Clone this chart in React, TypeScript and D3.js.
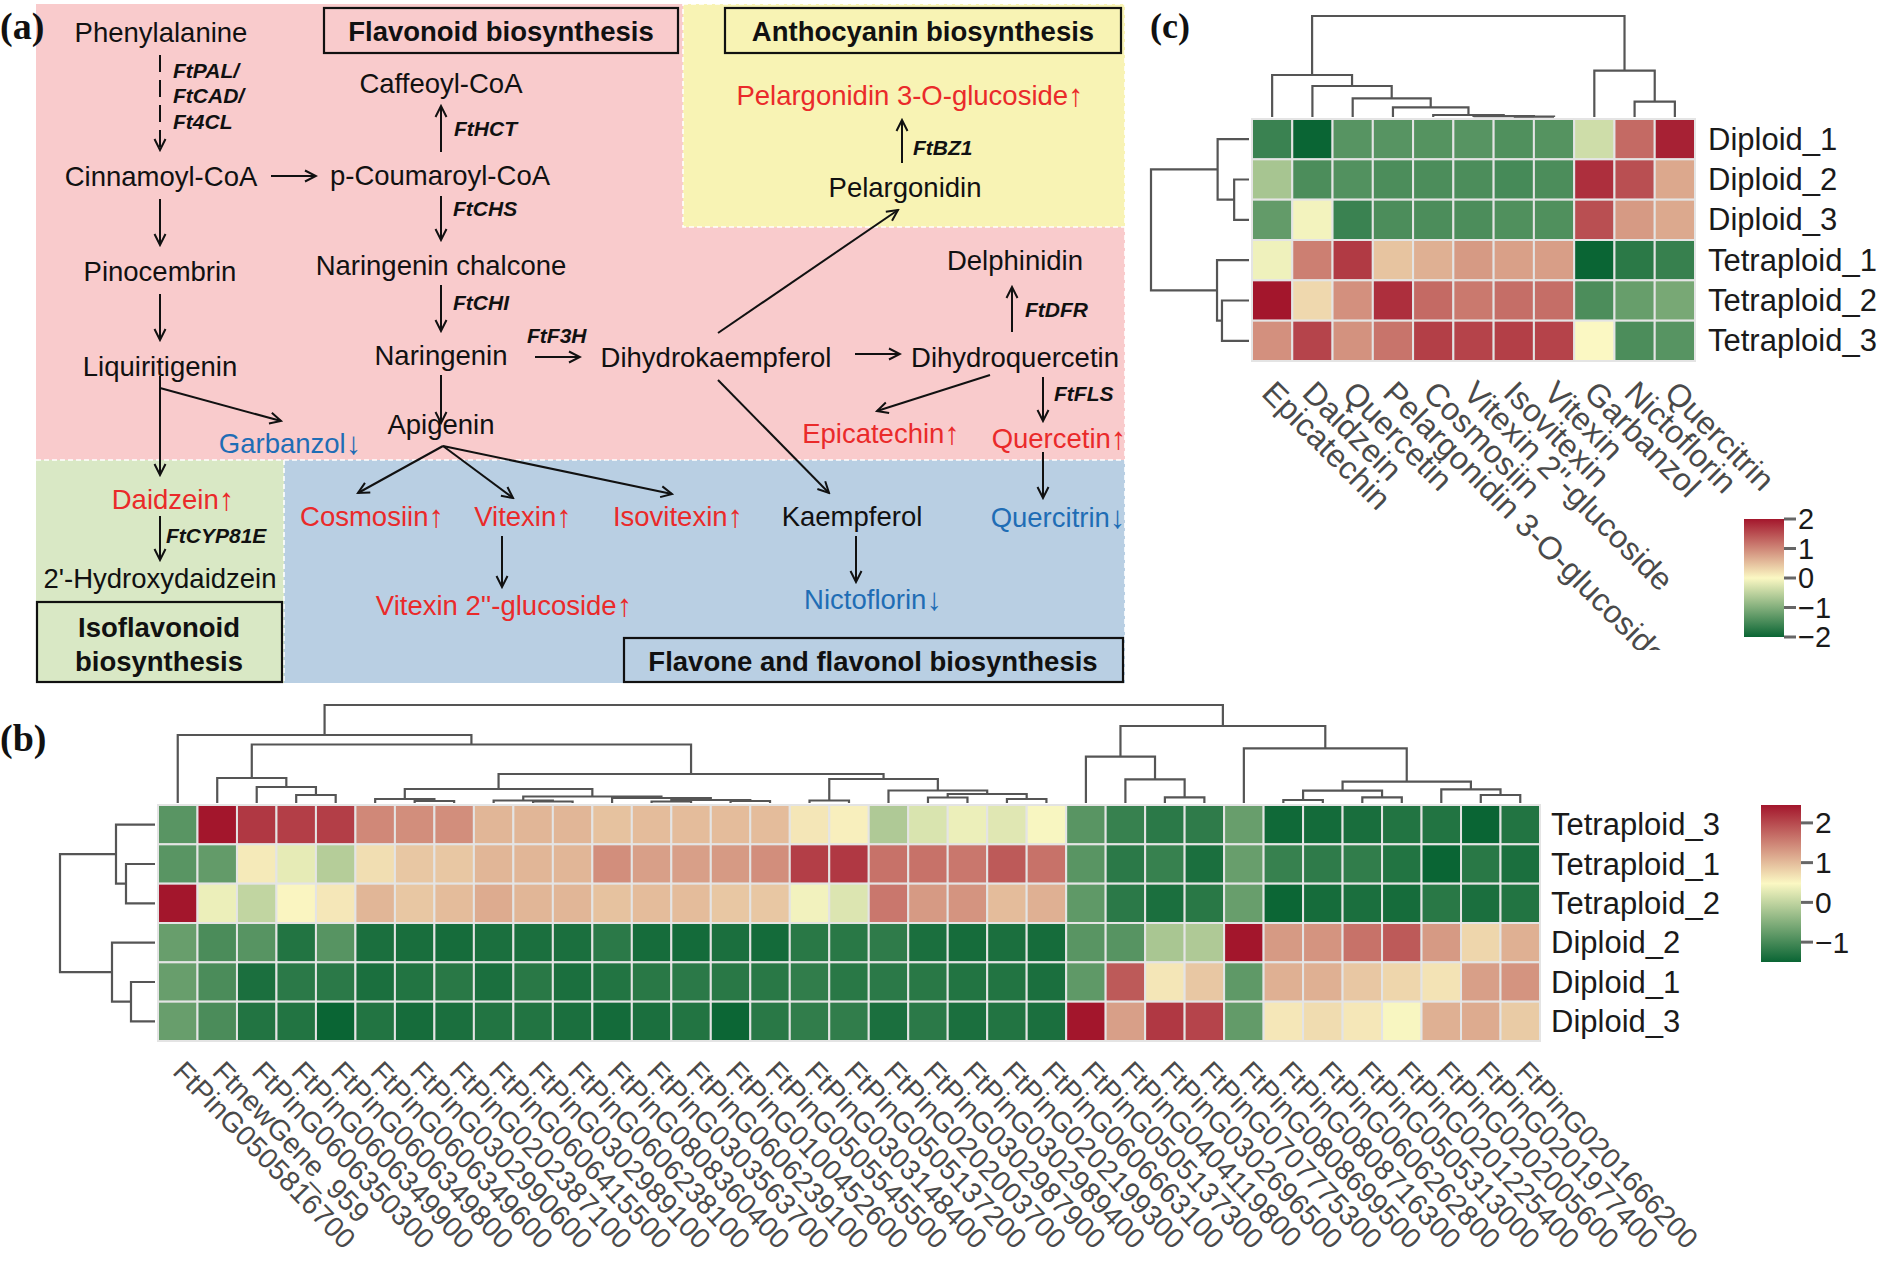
import * as d3 from 'd3';

// ---------- panel (b): gene expression heatmap ----------
const GENES = [
  'FtPinG0505816700', 'FtnewGene_959', 'FtPinG0606350300', 'FtPinG0606349900', 'FtPinG0606349800',
  'FtPinG0606349600', 'FtPinG0302990600', 'FtPinG0202387100', 'FtPinG0606415500', 'FtPinG0302989100',
  'FtPinG0606238100', 'FtPinG0808360400', 'FtPinG0303563700', 'FtPinG0606239100', 'FtPinG0100452600',
  'FtPinG0505545500', 'FtPinG0303148400', 'FtPinG0505137200', 'FtPinG0202003700', 'FtPinG0302987900',
  'FtPinG0302989400', 'FtPinG0202199300', 'FtPinG0606663100', 'FtPinG0505137300', 'FtPinG0404119800',
  'FtPinG0302696500', 'FtPinG0707775300', 'FtPinG0808699500', 'FtPinG0808716300', 'FtPinG0606262800',
  'FtPinG0505313000', 'FtPinG0201225400', 'FtPinG0202005600', 'FtPinG0201977400', 'FtPinG0201666200',
];
const B_ROWS = ['Tetraploid_3', 'Tetraploid_1', 'Tetraploid_2', 'Diploid_2', 'Diploid_1', 'Diploid_3'];
const B_VALUES = [
  [-0.85, 2.45, 2.15, 2.1, 2.1, 1.45, 1.4, 1.4, 1.05, 1.05, 1.05, 0.95, 1.0, 1.0, 1.0, 1.0, 0.63, 0.55, -0.15, 0.2, 0.35, 0.25, 0.45,
    -0.85, -1.13, -1.23, -1.2, -0.73, -1.45, -1.42, -1.38, -1.3, -1.3, -1.5, -1.3],
  [-0.85, -0.77, 0.6, 0.3, -0.1, 0.7, 0.9, 0.9, 1.05, 1.05, 1.05, 1.4, 1.25, 1.25, 1.3, 1.4, 2.1, 2.15, 1.65, 1.65, 1.6, 1.86, 1.65,
    -0.85, -1.23, -1.13, -1.36, -0.73, -1.13, -1.2, -1.18, -1.3, -1.5, -1.25, -1.36],
  [2.45, 0.35, 0.0, 0.5, 0.62, 1.05, 0.9, 1.0, 1.15, 1.05, 1.05, 0.95, 1.0, 1.0, 0.9, 0.9, 0.4, 0.22, 1.6, 1.3, 1.35, 1.0, 1.1,
    -0.8, -1.23, -1.36, -1.25, -0.73, -1.48, -1.4, -1.36, -1.4, -1.25, -1.36, -1.3],
  [-0.73, -0.97, -0.87, -1.3, -0.87, -1.36, -1.38, -1.4, -1.36, -1.36, -1.36, -1.23, -1.4, -1.42, -1.36, -1.42, -1.25, -1.25, -1.2, -1.36, -1.4, -1.36, -1.4,
    -0.85, -0.87, -0.2, -0.15, 2.45, 1.3, 1.35, 1.65, 1.86, 1.3, 0.77, 1.1],
  [-0.73, -0.97, -1.36, -1.23, -1.23, -1.36, -1.3, -1.25, -1.36, -1.25, -1.36, -1.3, -1.25, -1.23, -1.25, -1.25, -1.18, -1.25, -1.23, -1.25, -1.3, -1.3, -1.36,
    -0.8, 1.86, 0.63, 0.9, -0.8, 1.1, 1.1, 0.9, 0.77, 0.66, 1.25, 1.35],
  [-0.73, -0.97, -1.3, -1.3, -1.5, -1.3, -1.4, -1.36, -1.3, -1.3, -1.36, -1.42, -1.36, -1.3, -1.48, -1.25, -1.18, -1.18, -1.36, -1.23, -1.36, -1.3, -1.36,
    2.45, 1.25, 2.15, 2.05, -0.77, 0.62, 0.72, 0.62, 0.45, 1.1, 1.15, 0.87],
];
const B_RANGE = [-1.5, 2.45];
const B_TICKS = [2, 1, 0, -1];

// dendrograms: leaf = column/row index, node = [left, right, height]
type Tree = number | [Tree, Tree, number];
const B_COL_TREE: Tree = [
  [0, [[1, [2, [3, 4, 8], 16], 25],
    [[[5, [6, 7, 2], 4], [[8, [9, 10, 1.5], 2.5], [11, [[12, 13, 1.5], [14, 15, 2], 3], 5], 6.5], 14],
      [[16, 17, 2.5], [18, [[19, 20, 5.5], [21, 22, 4], 9], 12.5], 24], 29], 58.5], 68],
  [[23, [24, [25, 26, 5.7], 23.7], 46.3],
    [27, [[[28, 29, 3], [30, 31, 5.7], 12.3], [32, [33, 34, 8], 13.7], 21.3], 54.7], 77],
  98,
];
const B_ROW_TREE: Tree = [[0, [1, 2, 29], 39], [3, [4, 5, 24], 43], 95];

// ---------- panel (c): metabolite heatmap ----------
const COMPOUNDS = ['Epicatechin', 'Daidzein', 'Quercetin', 'Pelargonidin 3-O-glucoside', 'Cosmosiin',
  "Vitexin 2''-glucoside", 'Isovitexin', 'Vitexin', 'Garbanzol', 'Nictoflorin', 'Quercitrin'];
const C_ROWS = ['Diploid_1', 'Diploid_2', 'Diploid_3', 'Tetraploid_1', 'Tetraploid_2', 'Tetraploid_3'];
const C_VALUES = [
  [-1.6, -2.0, -1.36, -1.36, -1.38, -1.36, -1.42, -1.38, -0.37, 1.26, 1.9],
  [-0.7, -1.45, -1.4, -1.45, -1.45, -1.45, -1.5, -1.45, 1.78, 1.5, 0.71],
  [-1.26, -0.07, -1.6, -1.45, -1.45, -1.45, -1.42, -1.42, 1.5, 0.83, 0.7],
  [-0.1, 1.07, 1.68, 0.46, 0.64, 0.83, 0.78, 0.8, -2.0, -1.73, -1.63],
  [2.0, 0.28, 0.92, 1.78, 1.26, 1.12, 1.22, 1.22, -1.45, -1.23, -1.09],
  [0.92, 1.59, 0.9, 1.17, 1.64, 1.6, 1.64, 1.6, 0.0, -1.45, -1.36],
];
const C_RANGE = [-2, 2];
const C_TICKS = [2, 1, 0, -1, -2];
const C_COL_TREE: Tree = [
  [0, [1, [2, [3, [4, [5, [6, 7, 0.4], 0.8], 2], 9.7], 18.7], 31], 42],
  [8, [9, 10, 15.3], 46.3],
  101,
];
const C_ROW_TREE: Tree = [[0, [1, 2, 15], 31.7], [3, [4, 5, 27.3], 32.3], 99];

// ---------- panel (a): pathway ----------
const BLACK = '#111';
const RED = '#ea2a2a';
const BLUE = '#1f6db5';
const COMPOUND_NODES = [
  { t: 'Phenylalanine', x: 161, y: 32, c: BLACK },
  { t: 'Cinnamoyl-CoA', x: 161, y: 176, c: BLACK },
  { t: 'p-Coumaroyl-CoA', x: 440, y: 175, c: BLACK },
  { t: 'Caffeoyl-CoA', x: 441, y: 83, c: BLACK },
  { t: 'Naringenin chalcone', x: 441, y: 265, c: BLACK },
  { t: 'Naringenin', x: 441, y: 355, c: BLACK },
  { t: 'Dihydrokaempferol', x: 716, y: 357, c: BLACK },
  { t: 'Pinocembrin', x: 160, y: 271, c: BLACK },
  { t: 'Liquiritigenin', x: 160, y: 366, c: BLACK },
  { t: 'Garbanzol', x: 290, y: 443, c: BLUE, a: '↓' },
  { t: 'Apigenin', x: 441, y: 424, c: BLACK },
  { t: 'Pelargonidin 3-O-glucoside', x: 910, y: 95, c: RED, a: '↑' },
  { t: 'Pelargonidin', x: 905, y: 187, c: BLACK },
  { t: 'Delphinidin', x: 1015, y: 260, c: BLACK },
  { t: 'Dihydroquercetin', x: 1015, y: 357, c: BLACK },
  { t: 'Epicatechin', x: 881, y: 433, c: RED, a: '↑' },
  { t: 'Quercetin', x: 1059, y: 438, c: RED, a: '↑' },
  { t: 'Daidzein', x: 173, y: 499, c: RED, a: '↑' },
  { t: 'Cosmosiin', x: 372, y: 516, c: RED, a: '↑' },
  { t: 'Vitexin', x: 523, y: 516, c: RED, a: '↑' },
  { t: 'Isovitexin', x: 678, y: 516, c: RED, a: '↑' },
  { t: 'Kaempferol', x: 852, y: 516, c: BLACK },
  { t: 'Quercitrin', x: 1058, y: 517, c: BLUE, a: '↓' },
  { t: "2'-Hydroxydaidzein", x: 160, y: 578, c: BLACK },
  { t: "Vitexin 2''-glucoside", x: 504, y: 605, c: RED, a: '↑' },
  { t: 'Nictoflorin', x: 873, y: 599, c: BLUE, a: '↓' },
];
const ENZYMES = [
  { t: 'FtPAL/', x: 173, y: 70 }, { t: 'FtCAD/', x: 173, y: 95 }, { t: 'Ft4CL', x: 173, y: 121 },
  { t: 'FtHCT', x: 454, y: 128 }, { t: 'FtCHS', x: 453, y: 208 }, { t: 'FtCHI', x: 453, y: 302 },
  { t: 'FtF3H', x: 527, y: 335 }, { t: 'FtBZ1', x: 913, y: 147 }, { t: 'FtDFR', x: 1025, y: 309 },
  { t: 'FtFLS', x: 1054, y: 393 }, { t: 'FtCYP81E', x: 166, y: 535 },
];
const REACTIONS = [
  [160, 55, 160, 150, 1], [160, 199, 160, 245], [160, 294, 160, 340], [271, 176, 316, 176],
  [441, 152, 441, 106], [441, 196, 441, 240], [441, 285, 441, 331], [535, 357, 580, 357],
  [441, 375, 441, 423], [160, 376, 160, 475], [160, 388, 281, 421], [160, 516, 160, 560],
  [902, 163, 902, 120], [718, 333, 898, 210], [1012, 332, 1012, 287], [855, 354, 900, 354],
  [990, 375, 877, 411], [1043, 377, 1043, 421], [1043, 452, 1043, 498], [718, 380, 829, 493],
  [443, 446, 358, 493], [443, 446, 513, 498], [443, 446, 672, 494], [502, 536, 502, 587],
  [856, 536, 856, 582],
];

const FONT = "'Liberation Sans', Arial, Helvetica, sans-serif";
const SERIF = "'Liberation Serif', 'Times New Roman', serif";
const GREEN = '#0a6534', YELLOW = '#fbf8c3', DARKRED = '#a3162c';

function layoutTree(tree: Tree, leafPos: (i: number) => number, hs: (h: number) => number, vertical: boolean) {
  const paths: string[] = [];
  const walk = (n: Tree): { p: number; h: number } => {
    if (typeof n === 'number') return { p: leafPos(n), h: 0 };
    const l = walk(n[0]);
    const r = walk(n[1]);
    const h = n[2];
    if (vertical) paths.push(`M${l.p},${hs(l.h)}V${hs(h)}H${r.p}V${hs(r.h)}`);
    else paths.push(`M${hs(l.h)},${l.p}H${hs(h)}V${r.p}H${hs(r.h)}`);
    return { p: (l.p + r.p) / 2, h };
  };
  walk(tree);
  return paths;
}

function Heatmap(props: {
  cols: string[]; rows: string[]; values: number[][]; range: number[]; ticks: number[];
  x0: number; x1: number; y0: number; y1: number;
  colTree: Tree; rowTree: Tree; colTreeTop: number; rowTreeLeft: number; colTreeMax: number; rowTreeMax: number;
  rowLabelX: number; rowFont: number; colFont: number; colAngle: number; colDx: number; colDy: number;
  legend: { x: number; y0: number; y1: number; font: number }; id: string; clipBottom?: number;
}) {
  const p = props;
  const xs = d3.scaleBand<number>().domain(d3.range(p.cols.length)).range([p.x0, p.x1]);
  const ys = d3.scaleBand<number>().domain(d3.range(p.rows.length)).range([p.y0, p.y1]);
  const mid = (p.range[0] + p.range[1]) / 2;
  const color = d3.scaleLinear<string>().domain([p.range[0], mid, p.range[1]])
    .range([GREEN, YELLOW, DARKRED]).interpolate(d3.interpolateRgb).clamp(true);
  const colH = d3.scaleLinear().domain([0, p.colTreeMax]).range([p.y0 - 2, p.colTreeTop]);
  const rowH = d3.scaleLinear().domain([0, p.rowTreeMax]).range([p.x0 - 3, p.rowTreeLeft]);
  const colPaths = layoutTree(p.colTree, (i) => xs(i)! + xs.bandwidth() / 2, colH, true);
  const rowPaths = layoutTree(p.rowTree, (i) => ys(i)! + ys.bandwidth() / 2, rowH, false);
  const lg = p.legend;
  const ls = d3.scaleLinear().domain(p.range).range([lg.y1, lg.y0]);
  const gradId = `grad-${p.id}`;
  const clipId = `clip-${p.id}`;
  return (
    <g>
      <defs>
        <linearGradient id={gradId} x1="0" y1="1" x2="0" y2="0">
          <stop offset="0%" stopColor={GREEN} />
          <stop offset="50%" stopColor={YELLOW} />
          <stop offset="100%" stopColor={DARKRED} />
        </linearGradient>
        <clipPath id={clipId}>
          <rect x={0} y={0} width={1900} height={p.clipBottom ?? 1276} />
        </clipPath>
      </defs>
      {colPaths.concat(rowPaths).map((d, i) => (
        <path key={i} d={d} fill="none" stroke="#555" strokeWidth={2.2} />
      ))}
      {p.values.map((row, r) => row.map((v, c) => (
        <rect key={`${r}-${c}`} x={xs(c)} y={ys(r)} width={xs.bandwidth()} height={ys.bandwidth()}
          fill={color(v)} stroke="#e4e4e4" strokeWidth={2} />
      )))}
      {p.rows.map((r, i) => (
        <text key={r} x={p.rowLabelX} y={ys(i)! + ys.bandwidth() / 2} dominantBaseline="central"
          fontFamily={FONT} fontSize={p.rowFont} fill="#1a1a1a">{r}</text>
      ))}
      <g clipPath={`url(#${clipId})`}>
        {p.cols.map((c, i) => (
          <text key={c} transform={`translate(${xs(i)! + xs.bandwidth() / 2 + p.colDx},${p.y1 + p.colDy}) rotate(${p.colAngle})`}
            dominantBaseline="central" fontFamily={FONT} fontSize={p.colFont} fill="#4a4a4a">{c}</text>
        ))}
      </g>
      <rect x={lg.x} y={lg.y0} width={40} height={lg.y1 - lg.y0} fill={`url(#${gradId})`} />
      {p.ticks.map((t) => (
        <g key={t}>
          <line x1={lg.x + 40} x2={lg.x + 52} y1={ls(t)} y2={ls(t)} stroke="#666" strokeWidth={3} />
          <text x={lg.x + 54} y={ls(t)} dominantBaseline="central" fontFamily={FONT} fontSize={lg.font} fill="#1a1a1a">
            {t < 0 ? `\u2212${Math.abs(t)}` : String(t)}
          </text>
        </g>
      ))}
    </g>
  );
}

function Pathway() {
  const regionDash = { stroke: '#ffffff', strokeWidth: 1.6, strokeDasharray: '5,3', fill: 'none' };
  return (
    <g fontFamily={FONT}>
      <defs>
        <marker id="arr" viewBox="-1 -7 14 14" refX={11} refY={0} markerWidth={14} markerHeight={14}
          markerUnits="userSpaceOnUse" orient="auto">
          <path d="M0,-5.5 L11,0 L0,5.5" fill="none" stroke={BLACK} strokeWidth={2} />
        </marker>
      </defs>
      <rect x={36} y={4} width={1089} height={456} fill="#f9cbcc" />
      <rect x={683} y={4} width={442} height={223} fill="#f8f3b4" />
      <rect x={36} y={460} width={248} height={223} fill="#d9e8c5" />
      <rect x={284} y={460} width={841} height={223} fill="#b9cfe3" />
      <rect x={683} y={4} width={442} height={223} {...regionDash} />
      <line x1={36} x2={1125} y1={460} y2={460} {...regionDash} />
      <line x1={284} x2={284} y1={460} y2={683} {...regionDash} />
      <line x1={1125} x2={1125} y1={227} y2={683} {...regionDash} />

      <rect x={324} y={8} width={354} height={45} fill="none" stroke={BLACK} strokeWidth={2.2} />
      <text x={501} y={31} textAnchor="middle" dominantBaseline="central" fontSize={27.5} fontWeight="bold" fill={BLACK}>Flavonoid biosynthesis</text>
      <rect x={725} y={8} width={396} height={45} fill="none" stroke={BLACK} strokeWidth={2.2} />
      <text x={923} y={31} textAnchor="middle" dominantBaseline="central" fontSize={27.5} fontWeight="bold" fill={BLACK}>Anthocyanin biosynthesis</text>
      <rect x={37} y={602} width={245} height={80} fill="none" stroke={BLACK} strokeWidth={2.2} />
      <text x={159} y={627} textAnchor="middle" dominantBaseline="central" fontSize={27.5} fontWeight="bold" fill={BLACK}>Isoflavonoid</text>
      <text x={159} y={661} textAnchor="middle" dominantBaseline="central" fontSize={27.5} fontWeight="bold" fill={BLACK}>biosynthesis</text>
      <rect x={624} y={638} width={499} height={44} fill="none" stroke={BLACK} strokeWidth={2.2} />
      <text x={873} y={661} textAnchor="middle" dominantBaseline="central" fontSize={27.5} fontWeight="bold" fill={BLACK}>Flavone and flavonol biosynthesis</text>

      {REACTIONS.map((r, i) => (
        <line key={i} x1={r[0]} y1={r[1]} x2={r[2]} y2={r[3]} stroke={BLACK} strokeWidth={2}
          strokeDasharray={r[4] ? '17,8' : undefined} markerEnd="url(#arr)" />
      ))}
      {COMPOUND_NODES.map((n) => (
        <text key={n.t} x={n.x} y={n.y} textAnchor="middle" dominantBaseline="central" fontSize={27.5} fill={n.c}>
          {n.t}{n.a ? <tspan fontSize={31} fontWeight="bold">{n.a}</tspan> : null}
        </text>
      ))}
      {ENZYMES.map((e) => (
        <text key={e.t} x={e.x} y={e.y} dominantBaseline="central" fontSize={21} fontWeight="bold" fontStyle="italic" fill={BLACK}>{e.t}</text>
      ))}
    </g>
  );
}

export default function App() {
  return (
    <div style={{ width: 1900, height: 1276, background: '#fff' }}>
      <style>{'body{margin:0;}'}</style>
      <svg width={1900} height={1276} viewBox="0 0 1900 1276" style={{ display: 'block' }}>
        <rect width={1900} height={1276} fill="#fff" />
        <Pathway />
        <text x={0} y={26} dominantBaseline="central" fontFamily={SERIF} fontWeight="bold" fontSize={38} fill={BLACK}>(a)</text>
        <text x={0} y={738} dominantBaseline="central" fontFamily={SERIF} fontWeight="bold" fontSize={38} fill={BLACK}>(b)</text>
        <text x={1150} y={26} dominantBaseline="central" fontFamily={SERIF} fontWeight="bold" fontSize={36} fill={BLACK}>(c)</text>

        <Heatmap id="b" cols={GENES} rows={B_ROWS} values={B_VALUES} range={B_RANGE} ticks={B_TICKS}
          x0={158} x1={1540} y0={805} y1={1041}
          colTree={B_COL_TREE} rowTree={B_ROW_TREE} colTreeTop={705} rowTreeLeft={60} colTreeMax={98} rowTreeMax={95}
          rowLabelX={1551} rowFont={31} colFont={28.5} colAngle={46} colDx={1} colDy={25}
          legend={{ x: 1761, y0: 805, y1: 962, font: 30 }} />

        <Heatmap id="c" cols={COMPOUNDS} rows={C_ROWS} values={C_VALUES} range={C_RANGE} ticks={C_TICKS}
          x0={1252} x1={1695} y0={119} y1={361}
          colTree={C_COL_TREE} rowTree={C_ROW_TREE} colTreeTop={16} rowTreeLeft={1151} colTreeMax={101} rowTreeMax={99}
          rowLabelX={1708} rowFont={31} colFont={32} colAngle={45} colDx={-4} colDy={26}
          legend={{ x: 1744, y0: 519, y1: 637, font: 29 }} clipBottom={650} />
      </svg>
    </div>
  );
}
